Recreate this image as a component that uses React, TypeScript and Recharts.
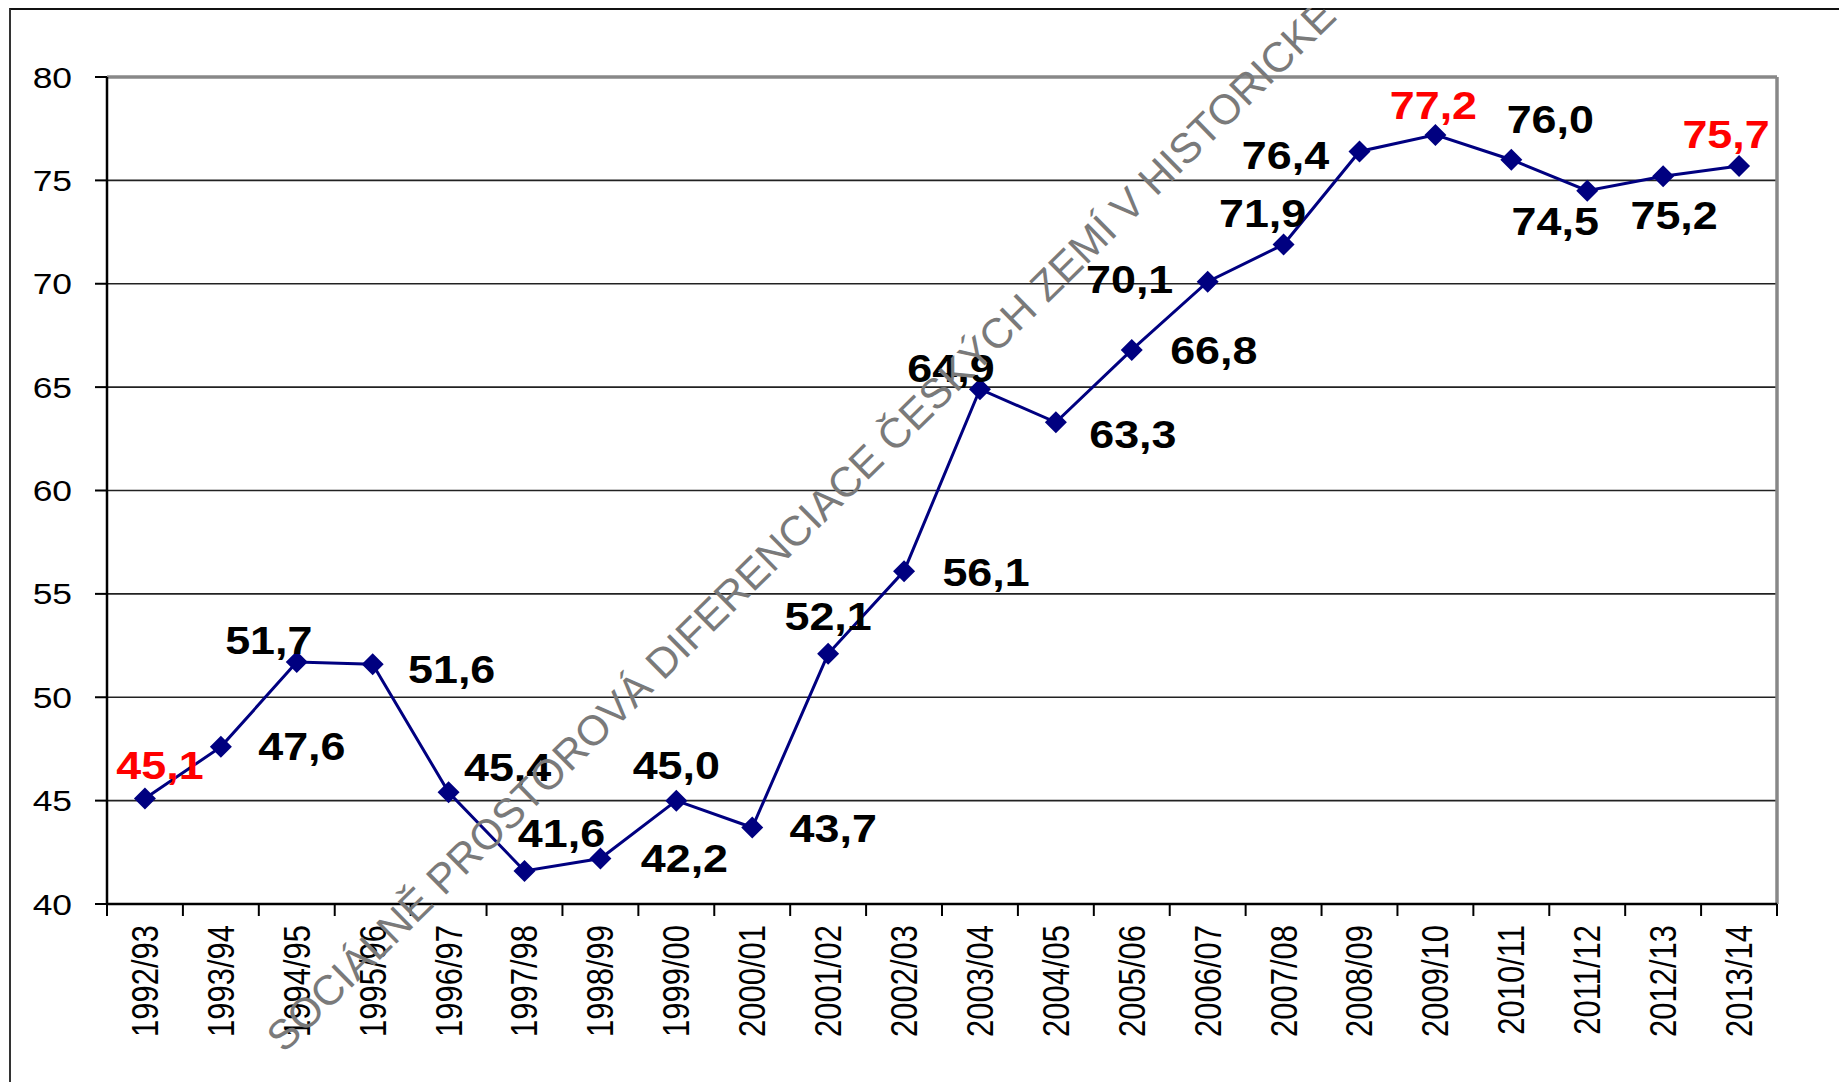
import React from "react";
import {
  ComposedChart,
  Line,
  XAxis,
  YAxis,
  CartesianGrid,
  LabelList,
} from "recharts";

const seasons = [
  "1992/93", "1993/94", "1994/95", "1995/96", "1996/97", "1997/98",
  "1998/99", "1999/00", "2000/01", "2001/02", "2002/03", "2003/04",
  "2004/05", "2005/06", "2006/07", "2007/08", "2008/09", "2009/10",
  "2010/11", "2011/12", "2012/13", "2013/14",
];

const shares = [
  45.1, 47.6, 51.7, 51.6, 45.4, 41.6, 42.2, 45.0, 43.7, 52.1, 56.1,
  64.9, 63.3, 66.8, 70.1, 71.9, 76.4, 77.2, 76.0, 74.5, 75.2, 75.7,
];

const yTicks = [40, 45, 50, 55, 60, 65, 70, 75, 80];

// seasons whose label is printed in red
const highlighted = ["1992/93", "2009/10", "2013/14"];

// where each value label sits relative to its marker (px)
const labelOffsets: [number, number][] = [
  [15, -33], [81, 0], [-28, -21], [79, 6], [59, -25], [37, -37],
  [84, 0], [0, -35], [81, 1], [0, -37], [82, 2], [-29, -20],
  [77, 12], [82, 1], [-78, -2], [-21, -31], [-74, 4], [-2, -29],
  [39, -40], [-32, 31], [11, 40], [-13, -31],
];

const data = seasons.map((season, i) => ({ season, value: shares[i] }));

const W = 1831;
const H = 1074;
const MARGIN = { top: 69, right: 62, left: 0, bottom: 18 };
const Y_AXIS_W = 99;
const PLOT_W = W - MARGIN.left - MARGIN.right - Y_AXIS_W;
const BAND = PLOT_W / seasons.length;
const STRETCH = 1.18;
const FONT = "Arial, 'Liberation Sans', sans-serif";
const NAVY = "#000080";

const fmt = (v: number) => v.toFixed(1).replace(".", ",");

const Diamond = (props: any) => {
  const { cx, cy } = props;
  if (cx == null || cy == null) return null;
  const r = 11;
  return (
    <polygon
      points={`${cx},${cy - r} ${cx + r},${cy} ${cx},${cy + r} ${cx - r},${cy}`}
      fill={NAVY}
    />
  );
};

const SeasonTick = (props: any) => {
  const { x, y, payload } = props;
  const last = payload.value === seasons[seasons.length - 1];
  return (
    <g>
      <line x1={x - BAND / 2} y1={y} x2={x - BAND / 2} y2={y + 12} stroke="#000" strokeWidth={2} />
      {last && (
        <line x1={x + BAND / 2} y1={y} x2={x + BAND / 2} y2={y + 12} stroke="#000" strokeWidth={2} />
      )}
      <text
        transform={`translate(${x},${y + 21}) scale(${STRETCH},1) rotate(-90)`}
        textAnchor="end"
        dominantBaseline="central"
        fontSize={31}
        fontFamily={FONT}
        fill="#000"
      >
        {payload.value}
      </text>
    </g>
  );
};

const ValueTick = (props: any) => {
  const { x, y, payload } = props;
  return (
    <text
      transform={`translate(${x},${y}) scale(${STRETCH},1)`}
      textAnchor="end"
      dominantBaseline="central"
      fontSize={30}
      fontFamily={FONT}
      fill="#000"
    >
      {payload.value}
    </text>
  );
};

const ValueLabel = (props: any) => {
  const { index, value } = props;
  const x = props.x ?? props.viewBox?.x;
  const y = props.y ?? props.viewBox?.y;
  if (x == null || y == null) return null;
  const [dx, dy] = labelOffsets[index] || [0, -35];
  const red = highlighted.includes(seasons[index]);
  return (
    <text
      transform={`translate(${x + dx},${y + dy}) scale(${STRETCH},1)`}
      textAnchor="middle"
      dominantBaseline="central"
      fontSize={38}
      fontWeight="bold"
      fontFamily={FONT}
      fill={red ? "#ff0000" : "#000"}
    >
      {fmt(Number(value))}
    </text>
  );
};

export default function App() {
  return (
    <div
      style={{
        position: "relative",
        width: W + 8,
        height: H + 8,
        marginBottom: -8,
        overflow: "hidden",
        background: "#fff",
        fontFamily: FONT,
      }}
    >
      <div
        style={{
          position: "absolute",
          left: 1,
          top: -1,
          width: W + 50,
          height: H + 50,
          borderTop: "3px solid #111",
          borderLeft: "2px solid #333",
        }}
      />
      <ComposedChart width={W} height={H} data={data} margin={MARGIN}>
        <CartesianGrid horizontal vertical={false} stroke="#222" strokeWidth={1.6} />
        <CartesianGrid
          horizontalCoordinatesGenerator={({ offset }: any) => [offset.top]}
          verticalCoordinatesGenerator={({ offset }: any) => [offset.left + offset.width]}
          stroke="#888"
          strokeWidth={3.5}
        />
        <XAxis
          dataKey="season"
          type="category"
          scale="point"
          padding={{ left: BAND / 2, right: BAND / 2 }}
          interval={0}
          height={160}
          tick={<SeasonTick />}
          tickLine={false}
          tickSize={0}
          tickMargin={0}
          axisLine={{ stroke: "#000", strokeWidth: 2.5 }}
        />
        <YAxis
          type="number"
          domain={[40, 80]}
          ticks={yTicks}
          interval={0}
          width={Y_AXIS_W}
          tickSize={12}
          tickMargin={23}
          tick={<ValueTick />}
          tickLine={{ stroke: "#000", strokeWidth: 2 }}
          axisLine={{ stroke: "#000", strokeWidth: 2.5 }}
        />
        <Line
          dataKey="value"
          stroke={NAVY}
          strokeWidth={3}
          dot={<Diamond />}
          activeDot={false}
          isAnimationActive={false}
        >
          <LabelList dataKey="value" content={<ValueLabel />} />
        </Line>
      </ComposedChart>
      <svg
        width={W}
        height={H}
        style={{ position: "absolute", left: 0, top: 0, pointerEvents: "none" }}
      >
        <text
          transform="translate(276,1046) rotate(-44.5)"
          fontSize={42}
          fontFamily={FONT}
          fill="#7a7a7a"
        >
          SOCIÁLNĚ PROSTOROVÁ DIFERENCIACE ČESKÝCH ZEMÍ V HISTORICKÉ
        </text>
      </svg>
    </div>
  );
}
